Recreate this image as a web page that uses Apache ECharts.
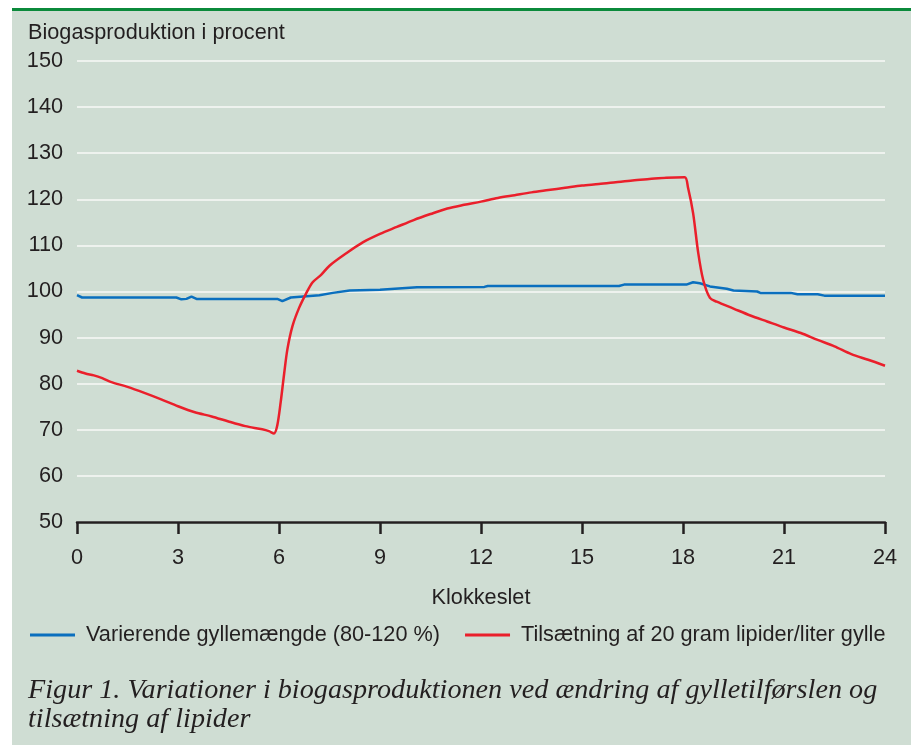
<!DOCTYPE html>
<html>
<head>
<meta charset="utf-8">
<script src="https://cdn.jsdelivr.net/npm/echarts@6/dist/echarts.min.js"></script>
<style>
  html, body { margin: 0; padding: 0; background: #fff; }
  #main { width: 917px; height: 745px; }
</style>
</head>
<body>
<div id="main"></div>
<script>
// x-akse: timer (klokkeslet)
var xTicks = [0, 3, 6, 9, 12, 15, 18, 21, 24];
var yTicks = [50, 60, 70, 80, 90, 100, 110, 120, 130, 140, 150];

// Varierende gyllemængde (80-120 %)
var blueHours = [0, 0.15, 2.95, 3.1, 3.25, 3.4, 3.55, 5.95, 6.1, 6.35, 7.2, 7.6, 8.1, 9.0, 10.1, 12.1, 12.2,
  16.1, 16.25, 18.1, 18.3, 18.5, 18.8, 19.3, 19.5, 20.2, 20.3, 21.2, 21.4, 22.0, 22.2, 24];
var blueValues = [99.2, 98.7, 98.7, 98.3, 98.4, 98.9, 98.4, 98.4, 97.9, 98.7, 99.2, 99.7, 100.2, 100.4, 100.9, 101.0, 101.2,
  101.2, 101.5, 101.5, 102.0, 101.8, 101.1, 100.6, 100.2, 100.0, 99.7, 99.7, 99.4, 99.4, 99.1, 99.1];

// Tilsætning af 20 gram lipider/liter gylle
var redHours = [0, 0.25, 0.5, 0.75, 1, 1.5, 2, 2.5, 3, 3.5, 4, 4.5, 5, 5.5, 5.7, 5.85, 5.95, 6.05, 6.15, 6.25,
  6.4, 6.6, 6.8, 7.0, 7.25, 7.5, 8, 8.5, 9, 9.5, 10, 10.5, 11, 11.5, 12, 12.5, 13, 13.5, 14, 14.5, 15, 15.5,
  16, 16.5, 17, 17.5, 18.05, 18.15, 18.3, 18.45, 18.6, 18.8, 19, 19.5, 20, 20.5, 21, 21.5, 22, 22.5, 23, 23.5, 24];
var redValues = [82.8, 82.2, 81.8, 81.2, 80.4, 79.3, 78.0, 76.6, 75.1, 73.8, 72.9, 71.8, 70.8, 70.1, 69.7, 69.2, 71, 76, 82, 87.5,
  92.5, 96.5, 99.5, 102, 103.6, 105.6, 108.3, 110.7, 112.5, 114, 115.5, 116.8, 118, 118.8, 119.5, 120.3, 120.9, 121.5, 122, 122.5, 123, 123.3,
  123.7, 124.1, 124.4, 124.7, 124.8, 122.5, 117, 108.5, 102.5, 98.6, 97.8, 96.3, 94.8, 93.5, 92.2, 91, 89.5, 88.1, 86.4, 85.2, 83.9];

var seriesNames = ['Varierende gyllemængde (80-120 %)', 'Tilsætning af 20 gram lipider/liter gylle'];

function pairs(xs, ys) {
  var out = [];
  for (var i = 0; i < xs.length; i++) out.push([xs[i], ys[i]]);
  return out;
}

var myChart = echarts.init(document.getElementById('main'));
var txt = '#231f20';
var sans = 'Liberation Sans, Arial, sans-serif';
var fs = 21.7;

var option = {
  animation: false,
  textStyle: { fontFamily: sans },
  graphic: [
    { type: 'rect', z: -10, shape: { x: 12, y: 11, width: 899, height: 734 }, style: { fill: '#cfddd3' } },
    { type: 'rect', z: -9, shape: { x: 12, y: 8, width: 899, height: 3 }, style: { fill: '#0b8a3b' } },
    { type: 'text', left: 28, top: 676, style: {
        text: 'Figur 1. Variationer i biogasproduktionen ved ændring af gylletilførslen og\ntilsætning af lipider',
        font: 'italic 28.2px "Liberation Serif", "Times New Roman", serif', fill: txt, lineHeight: 29 } }
  ],
  title: {
    text: 'Biogasproduktion i procent',
    left: 28, top: 22, padding: 0,
    textStyle: { fontSize: fs, fontWeight: 'normal', color: txt, fontFamily: sans }
  },
  legend: {
    left: 30, top: 624, padding: 0,
    icon: 'rect',
    itemWidth: 45, itemHeight: 3, itemGap: 25,
    textStyle: { fontSize: fs, color: txt, padding: [0, 0, 0, 6] },
    data: seriesNames
  },
  grid: { left: 77, right: 32, top: 61, bottom: 223, containLabel: false },
  xAxis: {
    type: 'value', min: 0, max: 24, interval: 3,
    name: 'Klokkeslet', nameLocation: 'middle', nameGap: 65,
    nameTextStyle: { fontSize: fs, color: txt },
    axisLine: { lineStyle: { color: txt, width: 2.5 } },
    axisTick: { length: 12, lineStyle: { color: txt, width: 2.5 } },
    axisLabel: { fontSize: fs, color: txt, margin: 25 },
    splitLine: { show: false }
  },
  yAxis: {
    type: 'value', min: yTicks[0], max: yTicks[yTicks.length - 1], interval: 10,
    axisLine: { show: false },
    axisTick: { show: false },
    axisLabel: { fontSize: fs, color: txt, margin: 14 },
    splitLine: { lineStyle: { color: '#eef2ee', width: 2 } }
  },
  series: [
    {
      name: seriesNames[0], type: 'line', symbol: 'none',
      lineStyle: { color: '#0a6fbe', width: 2.5 }, itemStyle: { color: '#0a6fbe' },
      data: pairs(blueHours, blueValues)
    },
    {
      name: seriesNames[1], type: 'line', symbol: 'none', smooth: 0.3,
      lineStyle: { color: '#ea1f2b', width: 2.5 }, itemStyle: { color: '#ea1f2b' },
      data: pairs(redHours, redValues)
    }
  ]
};
myChart.setOption(option);
</script>
</body>
</html>
